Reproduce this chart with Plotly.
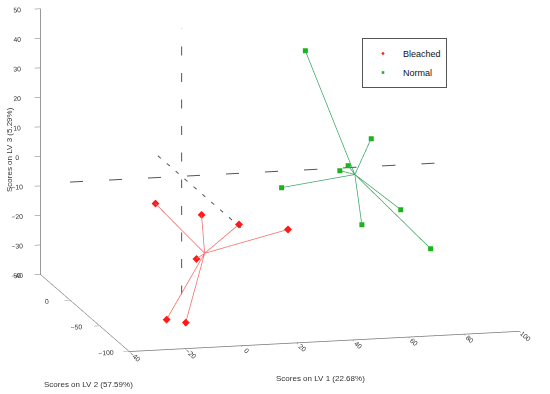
import plotly.graph_objects as go

# LV scores
bleached_lv1 = [-17.9, 2.9, 5.7, 25.4, -1.1, -22.4, -13.4]
bleached_lv2 = [-40, -20, -70, -60, -30, -80, -70]
bleached_lv3 = [-1.4, -9.7, -4.4, -8.8, -22.7, -33.5, -36.7]

normal_lv1 = [48.6, 70.1, 59.7, 54.6, 31.6, 72.2, 62.5, 80.8]
normal_lv2 = [20, 10, 0, -10, -20, -30, -10, -40]
normal_lv3 = [36.7, 7.6, 0.7, 1.0, -1.9, -9.6, -17.7, -21.5]

lv1_range = [-40, 100]
lv2_range = [-100, 50]
lv3_range = [-40, 50]
lv1_ticks = [-40, -20, 0, 20, 40, 60, 80, 100]
lv2_ticks = [-100, -50, 0, 50]
lv3_ticks = [-40, -30, -20, -10, 0, 10, 20, 30, 40, 50]

RED = "#ff1a1a"
RED_LINE = "#f26a6a"
GREEN = "#19b419"
GREEN_LINE = "#3aa866"
FONT = "Liberation Sans, Arial, sans-serif"


def star(xs, ys, zs):
    cx, cy, cz = sum(xs) / len(xs), sum(ys) / len(ys), sum(zs) / len(zs)
    lx, ly, lz = [], [], []
    for x, y, z in zip(xs, ys, zs):
        lx += [cx, x, None]
        ly += [cy, y, None]
        lz += [cz, z, None]
    return lx, ly, lz


fig = go.Figure()

# dashed reference lines through the origin
dash = dict(color="#555555", width=2, dash="longdash")
fig.add_trace(go.Scatter3d(x=lv1_range, y=[0, 0], z=[0, 0], mode="lines", line=dash,
                           showlegend=False, hoverinfo="skip"))
fig.add_trace(go.Scatter3d(x=[0, 0], y=lv2_range, z=[0, 0], mode="lines", line=dash,
                           showlegend=False, hoverinfo="skip"))
fig.add_trace(go.Scatter3d(x=[0, 0], y=[0, 0], z=lv3_range, mode="lines", line=dash,
                           showlegend=False, hoverinfo="skip"))

for xs, ys, zs, lc in [(bleached_lv1, bleached_lv2, bleached_lv3, RED_LINE),
                       (normal_lv1, normal_lv2, normal_lv3, GREEN_LINE)]:
    lx, ly, lz = star(xs, ys, zs)
    fig.add_trace(go.Scatter3d(x=lx, y=ly, z=lz, mode="lines",
                               line=dict(color=lc, width=1.5),
                               showlegend=False, hoverinfo="skip"))

fig.add_trace(go.Scatter3d(x=bleached_lv1, y=bleached_lv2, z=bleached_lv3, mode="markers",
                           name="Bleached",
                           marker=dict(symbol="diamond", size=2.6, color=RED)))
fig.add_trace(go.Scatter3d(x=normal_lv1, y=normal_lv2, z=normal_lv3, mode="markers",
                           name="Normal",
                           marker=dict(symbol="square", size=2.6, color=GREEN)))

axis_common = dict(showbackground=False, showgrid=False, zeroline=False,
                   showline=True, linecolor="#777777", linewidth=1.5,
                   ticks="outside", ticklen=6, tickcolor="#777777",
                   tickfont=dict(family=FONT, size=9, color="#333333"),
                   title=dict(text=""), showspikes=False)

fig.update_layout(
    width=550, height=394,
    paper_bgcolor="white",
    margin=dict(l=0, r=0, t=0, b=0),
    scene=dict(
        domain=dict(x=[0, 1], y=[0, 1]),
        xaxis=dict(range=lv1_range, tickvals=lv1_ticks, **axis_common),
        yaxis=dict(range=lv2_range, tickvals=lv2_ticks, **axis_common),
        zaxis=dict(range=lv3_range, tickvals=lv3_ticks, **axis_common),
        aspectmode="manual",
        aspectratio=dict(x=2.04, y=1.90, z=1.38),
        camera=dict(eye=dict(x=-0.373, y=-1.418, z=0.178), up=dict(x=0, y=0, z=1),
                    center=dict(x=-0.025, y=0.006, z=-0.14),
                    projection=dict(type="orthographic")),
    ),
    legend=dict(x=362 / 550, y=1 - 38 / 394, xanchor="left", yanchor="top",
                bordercolor="#555555", borderwidth=1, bgcolor="white",
                font=dict(family=FONT, size=9, color="#111111"),
                itemwidth=30, tracegroupgap=0, entrywidth=70),
    annotations=[
        dict(text="Scores on LV 1 (22.68%)", x=320 / 550, y=1 - 378 / 394,
             xref="paper", yref="paper", xanchor="center", yanchor="middle",
             showarrow=False, font=dict(family=FONT, size=8, color="#333333")),
        dict(text="Scores on LV 2 (57.59%)", x=88 / 550, y=1 - 384 / 394,
             xref="paper", yref="paper", xanchor="center", yanchor="middle",
             showarrow=False, font=dict(family=FONT, size=8, color="#333333")),
        dict(text="Scores on LV 3 (5.29%)", x=10 / 550, y=1 - 150 / 394,
             xref="paper", yref="paper", xanchor="center", yanchor="middle",
             showarrow=False, textangle=-90, font=dict(family=FONT, size=8, color="#333333")),
    ],
)

fig.write_html("out.html", config={"displayModeBar": False},
               post_script="document.body.style.margin='0';")
